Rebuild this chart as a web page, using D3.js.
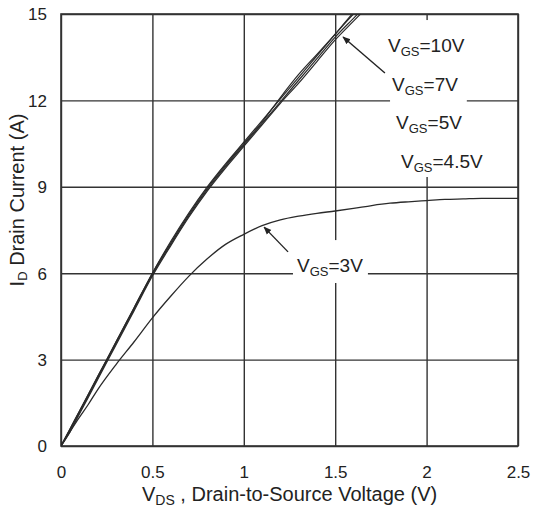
<!DOCTYPE html>
<html><head><meta charset="utf-8">
<script src="https://cdn.jsdelivr.net/npm/d3@7"></script>
<style>
html,body{margin:0;padding:0;background:#fff;}
svg{display:block;font-family:"Liberation Sans",Arial,sans-serif;}
</style></head>
<body>
<svg id="chart" width="533" height="512"></svg>
<script>
// ---- data ----
const vds = [0, 0.05, 0.1, 0.2, 0.3, 0.4, 0.5, 0.6, 0.7, 0.8, 0.9, 1.0, 1.1, 1.2, 1.3, 1.4, 1.5, 1.6, 1.7];
const id10V  = [0, 0.6, 1.2, 2.4, 3.6, 4.8, 6.0, 7.1, 8.1, 9.0, 9.8, 10.55, 11.3, 12.05, 12.8, 13.55, 14.3, 15.05, 15.7];
const id7V   = [0, 0.6, 1.2, 2.4, 3.6, 4.8, 6.0, 7.05, 8.05, 8.95, 9.75, 10.5, 11.25, 12.1, 12.9, 13.6, 14.3, 15.0, 15.6];
const id5V   = [0, 0.55, 1.15, 2.35, 3.55, 4.75, 5.95, 7.0, 8.0, 8.9, 9.7, 10.45, 11.2, 11.95, 12.7, 13.45, 14.2, 14.85, 15.5];
const id45V  = [0, 0.5, 1.1, 2.3, 3.5, 4.7, 5.9, 6.95, 7.95, 8.85, 9.65, 10.4, 11.15, 11.9, 12.6, 13.35, 14.1, 14.75, 15.4];
const vds3V  = [0, 0.05, 0.09, 0.15, 0.2, 0.3, 0.4, 0.5, 0.6, 0.7, 0.8, 0.9, 1.0, 1.1, 1.2, 1.3, 1.4, 1.5, 1.6, 1.7, 1.8, 1.9, 2.0, 2.1, 2.2, 2.3, 2.4, 2.5];
const id3V   = [0, 0.5, 0.9, 1.45, 1.95, 2.82, 3.62, 4.45, 5.2, 5.9, 6.5, 7.0, 7.35, 7.65, 7.85, 7.98, 8.08, 8.16, 8.25, 8.35, 8.43, 8.48, 8.52, 8.56, 8.58, 8.6, 8.6, 8.6];
const xTicks = [0, 0.5, 1, 1.5, 2, 2.5];
const xTickLabels = ["0", "0.5", "1", "1.5", "2", "2.5"];
const yTicks = [0, 3, 6, 9, 12, 15];
const yTickLabels = ["0", "3", "6", "9", "12", "15"];
const seriesNames = ["10V", "7V", "5V", "4.5V"];
const labelNames = ["10V", "7V", "5V", "4.5V", "3V"];
// label anchor points in data units (VDS, ID)
const labelVds = [1.789, 1.811, 1.833, 1.86, 1.291];
const labelId  = [13.68, 12.33, 11.0, 9.65, 6.04];

// ---- layout ----
const svg = d3.select("#chart");
const mL = 61, mR = 518, mT = 14, mB = 446;
const x = d3.scaleLinear().domain([0, 2.5]).range([mL, mR]);
const y = d3.scaleLinear().domain([0, 15]).range([mB, mT]);
const ink = "#333";

const defs = svg.append("defs");
defs.append("clipPath").attr("id", "plotClip")
  .append("rect").attr("x", mL).attr("y", mT).attr("width", mR - mL).attr("height", mB - mT);
const marker = defs.append("marker").attr("id", "arrow")
  .attr("viewBox", "0 0 10 10").attr("refX", 9).attr("refY", 5)
  .attr("markerWidth", 8).attr("markerHeight", 8).attr("markerUnits", "userSpaceOnUse")
  .attr("orient", "auto");
marker.append("path").attr("d", "M0,1 L10,5 L0,9 Z").attr("fill", "#222");

// grid via axes
const gx = svg.append("g").attr("transform", `translate(0,${mB})`)
  .call(d3.axisBottom(x).tickValues(xTicks).tickSize(-(mB - mT)).tickFormat((d, i) => xTickLabels[i]));
const gy = svg.append("g").attr("transform", `translate(${mL},0)`)
  .call(d3.axisLeft(y).tickValues(yTicks).tickSize(-(mR - mL)).tickFormat((d, i) => yTickLabels[i]));
[gx, gy].forEach(g => {
  g.select(".domain").remove();
  g.selectAll(".tick line").attr("stroke", ink).attr("stroke-width", 1.4);
  g.selectAll(".tick text").attr("fill", "#222").attr("font-size", 17)
    .attr("font-family", '"Liberation Sans", Arial, sans-serif');
});
gx.selectAll(".tick text").attr("y", 0).attr("dy", 0).attr("transform", "translate(0,32)");
gy.selectAll(".tick text").attr("x", -14).attr("dy", "0.35em");

// frame
svg.append("rect").attr("x", mL).attr("y", mT).attr("width", mR - mL).attr("height", mB - mT)
  .attr("fill", "none").attr("stroke", ink).attr("stroke-width", 1.6);

// curves
const line = d3.line().x(d => x(d[0])).y(d => y(d[1])).curve(d3.curveMonotoneX);
const plot = svg.append("g").attr("clip-path", "url(#plotClip)");
const mainSeries = [id10V, id7V, id5V, id45V];
mainSeries.forEach((s, i) => {
  plot.append("path").datum(vds.map((v, j) => [v, s[j]]))
    .attr("d", line).attr("fill", "none").attr("stroke", "#2a2a2a").attr("stroke-width", 1.2);
});
plot.append("path").datum(vds3V.map((v, j) => [v, id3V[j]]))
  .attr("d", line).attr("fill", "none").attr("stroke", "#2a2a2a").attr("stroke-width", 1.3);

// white label backgrounds
svg.append("rect").attr("x", x(1.8)).attr("y", y(14.79)).attr("width", x(2.22) - x(1.8)).attr("height", y(9.34) - y(14.79)).attr("fill", "#fff");
svg.append("rect").attr("x", x(1.269)).attr("y", y(7.15)).attr("width", x(1.679) - x(1.269)).attr("height", y(5.66) - y(7.15)).attr("fill", "#fff");

// arrows
const arrows = [[1.772, 12.95, 1.543, 14.2], [1.242, 6.74, 1.111, 7.6]];
arrows.forEach(a => {
  svg.append("line").attr("x1", x(a[0])).attr("y1", y(a[1])).attr("x2", x(a[2])).attr("y2", y(a[3]))
    .attr("stroke", "#222").attr("stroke-width", 1.4).attr("marker-end", "url(#arrow)");
});

// labels
labelNames.forEach((n, i) => {
  const t = svg.append("text").attr("x", x(labelVds[i])).attr("y", y(labelId[i]))
    .attr("font-size", 19).attr("fill", "#222");
  t.append("tspan").text("V");
  t.append("tspan").attr("font-size", 13).attr("dy", 4).text("GS");
  t.append("tspan").attr("dy", -4).text("=" + n);
});

// axis titles
const xt = svg.append("text").attr("x", 142).attr("y", 501).attr("font-size", 20).attr("fill", "#222");
xt.append("tspan").text("V");
xt.append("tspan").attr("font-size", 14).attr("dy", 4).text("DS");
xt.append("tspan").attr("dy", -4).text(" , Drain-to-Source Voltage (V)");

const yt = svg.append("text").attr("transform", "translate(24,200) rotate(-90)")
  .attr("text-anchor", "middle").attr("font-size", 20).attr("fill", "#222");
yt.append("tspan").text("I");
yt.append("tspan").attr("font-size", 13).attr("dy", 3).text("D");
yt.append("tspan").attr("dy", -3).text(" Drain Current (A)");
</script>
</body></html>
